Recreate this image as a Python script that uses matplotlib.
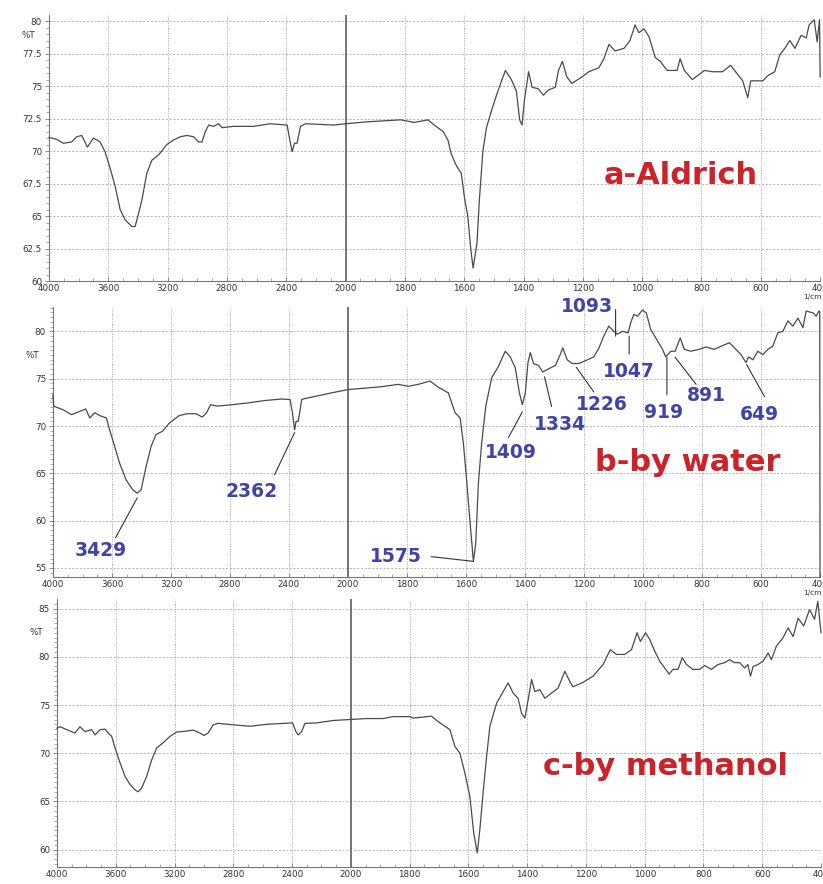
import numpy as np
import matplotlib.pyplot as plt
from matplotlib.ticker import FixedLocator, FuncFormatter

# ---- spectrum a : Aldrich ----
wn_a = [4000, 3948, 3903, 3847, 3813, 3779, 3741, 3700, 3655, 3622, 3588, 3554, 3520, 3486,
        3441, 3419, 3396, 3374, 3340, 3306, 3261, 3205, 3160, 3115, 3070, 3025, 2991, 2968,
        2946, 2923, 2890, 2856, 2833, 2755, 2620, 2507, 2394, 2376, 2360, 2345, 2327, 2304,
        2270, 2079, 2000, 1927, 1814, 1769, 1722, 1701, 1671, 1655, 1644, 1627, 1610, 1599,
        1588, 1578, 1570, 1557, 1549, 1537, 1525, 1508, 1491, 1474, 1461, 1441, 1424, 1413,
        1405, 1397, 1383, 1371, 1351, 1333, 1316, 1293, 1282, 1269, 1254, 1237, 1203, 1180,
        1146, 1129, 1112, 1091, 1061, 1041, 1024, 1011, 994, 977, 956, 939, 916, 892, 882,
        872, 858, 831, 807, 790, 763, 729, 702, 685, 661, 644, 634, 617, 593, 576, 553, 536,
        519, 502, 485, 464, 447, 437, 420, 410, 402, 400]
t_a = [71.05, 70.9, 70.6, 70.7, 71.1, 71.2, 70.3, 71.0, 70.7, 69.95, 68.7, 67.3, 65.5, 64.7,
       64.2, 64.2, 65.2, 66.2, 68.3, 69.3, 69.7, 70.5, 70.85, 71.1, 71.2, 71.1, 70.7, 70.7,
       71.5, 72.0, 71.9, 72.1, 71.8, 71.9, 71.9, 72.1, 72.0, 70.85, 69.95, 70.6, 70.6, 71.9,
       72.1, 72.0, 72.1, 72.25, 72.4, 72.2, 72.4, 72.0, 71.5, 70.85, 69.8, 68.9, 68.3, 66.4,
       65.0, 62.5, 61.0, 62.9, 66.2, 70.0, 71.8, 73.1, 74.3, 75.4, 76.2, 75.5, 74.6, 72.4,
       72.0, 73.9, 76.1, 74.9, 74.8, 74.3, 74.7, 74.9, 76.2, 76.9, 75.7, 75.2, 75.7, 76.1,
       76.4, 77.1, 78.2, 77.7, 77.9, 78.5, 79.7, 79.1, 79.4, 78.8, 77.2, 76.9, 76.2, 76.2, 76.2,
       77.1, 76.2, 75.5, 75.9, 76.2, 76.1, 76.1, 76.6, 76.1, 75.4, 74.1, 75.4, 75.4, 75.4, 75.8,
       76.1, 77.4, 77.9, 78.5, 77.9, 78.9, 78.7, 79.7, 80.1, 78.4, 80.1, 75.7]

# ---- spectrum b : prepared in water ----
wn_b = [4000, 3995, 3930, 3874, 3818, 3778, 3751, 3717, 3683, 3638, 3616, 3582, 3549, 3504,
        3459, 3429, 3403, 3369, 3335, 3302, 3257, 3212, 3145, 3089, 3032, 2988, 2961, 2931,
        2887, 2786, 2673, 2561, 2449, 2393, 2377, 2362, 2352, 2337, 2314, 2292, 2112, 2000,
        1887, 1830, 1796, 1762, 1722, 1694, 1660, 1637, 1620, 1609, 1598, 1586, 1575, 1567,
        1558, 1547, 1533, 1513, 1490, 1467, 1450, 1433, 1419, 1409, 1399, 1390, 1382, 1371,
        1354, 1340, 1326, 1297, 1282, 1272, 1257, 1240, 1218, 1195, 1167, 1150, 1133, 1116,
        1099, 1087, 1070, 1050, 1042, 1031, 1019, 1002, 989, 974, 957, 934, 923, 906, 891, 874,
        860, 838, 810, 787, 759, 730, 707, 685, 668, 651, 642, 628, 611, 594, 577, 560, 543,
        526, 509, 492, 475, 458, 447, 424, 413, 404, 401, 400]
t_b = [73.3, 72.1, 71.7, 71.2, 71.55, 71.8, 70.85, 71.4, 71.1, 70.85, 69.6, 67.85, 66.1, 64.3,
       63.25, 62.9, 63.25, 65.7, 67.85, 69.1, 69.45, 70.3, 71.1, 71.3, 71.3, 70.95, 71.35, 72.25,
       72.1, 72.25, 72.45, 72.7, 72.85, 72.8, 71.4, 69.6, 70.5, 70.5, 72.8, 72.9, 73.5, 73.85,
       74.15, 74.4, 74.2, 74.4, 74.75, 74.1, 73.5, 71.4, 70.85, 68.2, 64.3, 59.7, 55.7, 57.6,
       64.0, 68.2, 72.1, 75.1, 76.3, 77.9, 77.3, 76.15, 73.5, 72.25, 73.5, 76.7, 77.75, 76.6,
       76.4, 75.7, 75.95, 76.4, 77.45, 78.25, 77.0, 76.6, 76.6, 76.9, 77.3, 78.2, 79.5, 80.55,
       80.0, 79.7, 80.0, 79.85, 80.9, 81.8, 81.6, 82.25, 81.95, 80.2, 79.3, 78.1, 77.3, 77.9, 77.9,
       79.3, 78.1, 77.9, 78.1, 78.35, 78.1, 78.5, 78.8, 78.1, 77.55, 76.7, 77.3, 77.0, 77.9, 77.55,
       78.1, 78.45, 79.85, 80.0, 81.1, 80.55, 81.4, 80.4, 82.15, 81.95, 81.6, 82.15, 82.1, 54.0]

# ---- spectrum c : prepared in methanol ----
wn_c = [4000, 3980, 3934, 3878, 3844, 3810, 3764, 3741, 3707, 3673, 3651, 3628, 3605, 3571,
        3537, 3503, 3469, 3447, 3424, 3390, 3356, 3322, 3277, 3231, 3186, 3118, 3073, 3027,
        3000, 2971, 2937, 2903, 2801, 2687, 2573, 2461, 2397, 2374, 2358, 2335, 2313, 2233,
        2120, 2007, 1947, 1890, 1856, 1799, 1788, 1754, 1726, 1697, 1663, 1646, 1629, 1612,
        1595, 1582, 1570, 1561, 1550, 1538, 1527, 1504, 1487, 1465, 1448, 1431, 1419, 1408,
        1397, 1385, 1374, 1357, 1340, 1317, 1295, 1283, 1272, 1255, 1244, 1210, 1176, 1142,
        1117, 1096, 1068, 1045, 1026, 1015, 997, 983, 966, 949, 932, 917, 904, 887, 872, 858,
        836, 813, 796, 773, 751, 728, 711, 694, 677, 660, 649, 640, 631, 615, 597, 580, 569,
        552, 530, 512, 495, 478, 459, 439, 422, 411, 400]
t_c = [72.6, 72.75, 72.45, 72.1, 72.75, 72.25, 72.45, 71.9, 72.45, 72.5, 72.1, 71.75, 70.55,
       69.0, 67.6, 66.75, 66.2, 66.0, 66.4, 67.6, 69.3, 70.55, 71.1, 71.75, 72.2, 72.3, 72.4,
       72.1, 71.85, 72.1, 72.95, 73.1, 72.95, 72.8, 73.0, 73.1, 73.15, 72.25, 71.9, 72.25, 73.1,
       73.15, 73.4, 73.5, 73.6, 73.6, 73.8, 73.8, 73.65, 73.75, 73.85, 73.15, 72.45, 70.7, 70.0,
       67.95, 65.5, 61.75, 59.65, 62.1, 65.9, 69.7, 72.8, 75.2, 76.1, 77.3, 76.25, 75.7, 74.15,
       73.65, 75.5, 77.65, 76.4, 76.6, 75.7, 76.25, 76.75, 77.65, 78.5, 77.45, 76.9, 77.35, 78.0,
       79.2, 80.75, 80.25, 80.25, 80.75, 82.5, 81.6, 82.5, 81.8, 80.6, 79.55, 78.85, 78.2, 78.7,
       78.7, 79.9, 79.2, 78.7, 78.7, 79.1, 78.7, 79.2, 79.4, 79.7, 79.4, 79.4, 78.85, 79.2, 78.0,
       79.0, 79.2, 79.55, 80.4, 79.7, 81.1, 81.95, 83.0, 82.1, 84.0, 83.2, 84.9, 83.9, 85.75, 82.5]

# peak labels on spectrum b: value, text position, leader start, leader end %T
peak_labels = ['3429', '2362', '1575', '1409', '1334', '1226', '1093', '1047', '919', '891', '649']
peak_text = [(3673, 56.8), (2653, 63.05), (1837, 56.2), (1449, 67.2), (1282, 70.15),
             (1139, 72.3), (1190, 82.65), (1048, 75.8), (932, 71.4), (786, 73.2), (605, 71.2)]
peak_start = [(3576, 58.2), (2498, 64.85), (1718, 56.2), (1456, 68.8), (1310, 72.05),
              (1167, 73.6), (1093, 82.3), (1047, 77.6), (919, 73.3), (820, 74.4), (588, 73.1)]
peak_end_t = [62.4, 69.3, 55.7, 71.5, 75.2, 76.2, 79.5, 79.5, 77.25, 77.25, 76.5]

INK = '#4a4a4a'
RED = '#cc2229'
BLUE = '#4044a4'


# the part above 2000 1/cm is drawn at half the scale of the part below
def fwd(x):
    x = np.asarray(x, dtype=float)
    return np.where(x > 2000, 2000 + (x - 2000) / 2, x)


def inv(u):
    u = np.asarray(u, dtype=float)
    return np.where(u > 2000, 2000 + (u - 2000) * 2, u)


def draw_panel(ax, wn, t, ylim, ystep, pct_y, unit_label=True):
    ax.set_xscale('function', functions=(fwd, inv))
    ax.set_xlim(4000, 400)
    ax.set_ylim(*ylim)

    major_x = [4000, 3600, 3200, 2800, 2400, 2000, 1800, 1600, 1400, 1200, 1000, 800, 600, 400]
    minor_x = list(range(2100, 4000, 100)) + list(range(450, 2000, 50))
    ax.xaxis.set_major_locator(FixedLocator(major_x))
    ax.xaxis.set_minor_locator(FixedLocator(minor_x))
    yt = np.arange(np.ceil(ylim[0] / ystep) * ystep, ylim[1] + 0.01, ystep)
    ax.yaxis.set_major_locator(FixedLocator(yt))
    ax.yaxis.set_minor_locator(FixedLocator(np.arange(np.ceil(ylim[0] * 2) / 2, ylim[1], 0.5)))
    ax.yaxis.set_major_formatter(FuncFormatter(lambda v, p: f'{v:g}'))

    for s in ('top', 'right'):
        ax.spines[s].set_visible(False)
    for s in ('left', 'bottom'):
        ax.spines[s].set_color('#777777')
        ax.spines[s].set_linewidth(0.8)

    ax.tick_params(axis='both', which='major', labelsize=6.3, labelcolor='#333333',
                   color='#777777', length=3, width=0.6, pad=2)
    ax.tick_params(axis='both', which='minor', color='#888888', length=2, width=0.5)
    ax.tick_params(axis='x', which='both', direction='in')

    # dashed grid, with a solid line where the scale changes
    for v in major_x:
        if v == 2000:
            ax.axvline(v, color='#6a6a6a', lw=1.3, zorder=1)
        elif v != 4000:
            ax.axvline(v, color='#aaaaaa', lw=0.6, ls=(0, (1.5, 1.5)), zorder=0)
    for v in yt:
        ax.axhline(v, color='#aaaaaa', lw=0.6, ls=(0, (2.5, 2)), zorder=0)

    ax.plot(wn, t, color=INK, lw=0.9, zorder=3, clip_on=False)

    ax.text(-0.018, pct_y, '%T', transform=ax.get_yaxis_transform(), ha='right',
            va='center', fontsize=6.3, color='#333333')
    if unit_label:
        ax.text(1.002, -0.05, '1/cm', transform=ax.transAxes, ha='right', va='top',
                fontsize=5.3, color='#333333')


fig = plt.figure(figsize=(8.23, 8.84), dpi=100)
ax_a = fig.add_axes([0.0595, 0.682, 0.937, 0.301])
ax_b = fig.add_axes([0.0644, 0.3473, 0.932, 0.3057])
ax_c = fig.add_axes([0.0693, 0.0192, 0.9283, 0.3032])

draw_panel(ax_a, wn_a, t_a, (60, 80.46), 2.5, 78.85)
draw_panel(ax_b, wn_b, t_b, (54.05, 82.6), 5, 77.5)
draw_panel(ax_c, wn_c, t_c, (58.2, 86.0), 5, 82.5, unit_label=False)

title_kw = dict(color=RED, fontsize=22, fontweight='bold', ha='center', va='center',
                family='DejaVu Sans', zorder=5)
ax_a.text(868, 68.15, 'a-Aldrich', **title_kw)
ax_b.text(850, 66.1, 'b-by water', **title_kw)
ax_c.text(929, 68.6, 'c-by methanol', **title_kw)

for lab, (tx, ty), (sx, sy), ey in zip(peak_labels, peak_text, peak_start, peak_end_t):
    ax_b.text(tx, ty, lab, color=BLUE, fontsize=13.5, fontweight='bold', ha='center',
              va='center', zorder=6, clip_on=False)
    ax_b.annotate('', xy=(float(lab), ey), xytext=(sx, sy),
                  arrowprops=dict(arrowstyle='-', color='#333333', lw=0.8,
                                  shrinkA=0, shrinkB=0), zorder=6)

fig.savefig('out.png', dpi=100, facecolor='white')
